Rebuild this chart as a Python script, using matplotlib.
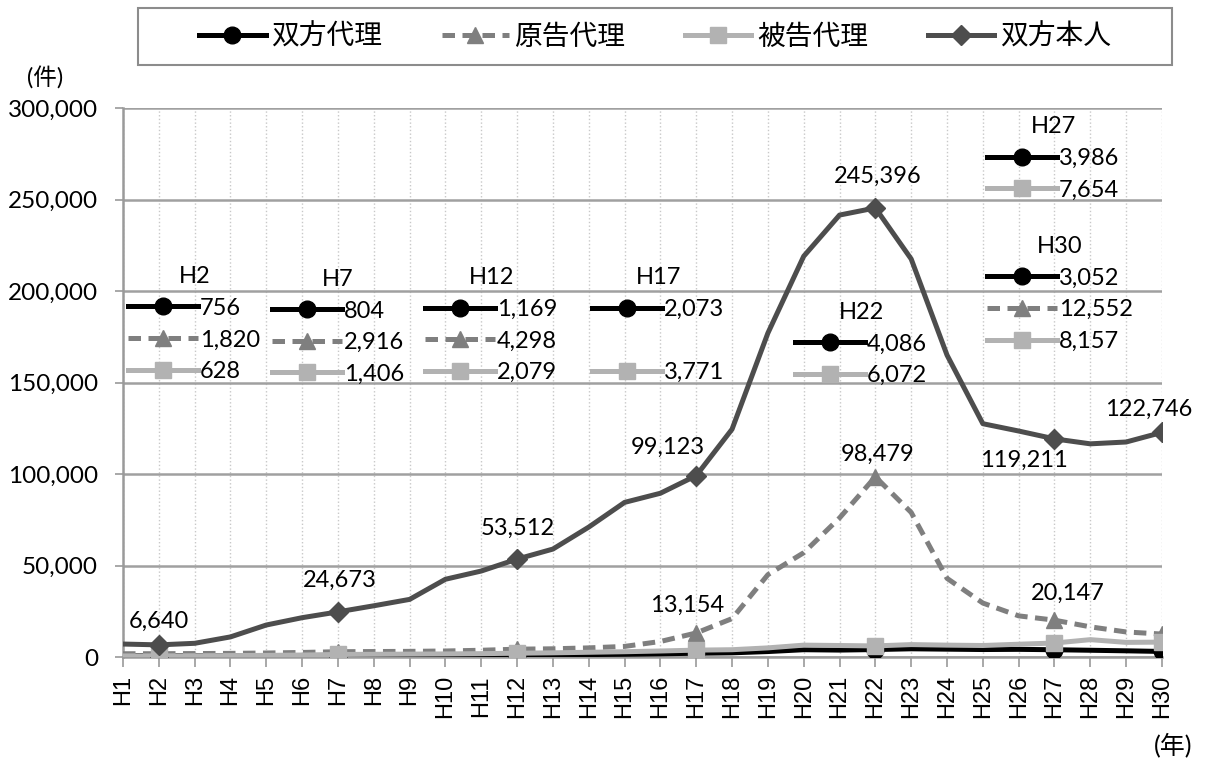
import matplotlib
matplotlib.use("Agg")
import matplotlib.pyplot as plt
from matplotlib.lines import Line2D
from matplotlib.patches import Rectangle
from matplotlib.ticker import FuncFormatter, MultipleLocator

plt.rcParams['font.family'] = ['Lato', 'Noto Sans CJK JP', 'DejaVu Sans']

# data
years = ['H%d' % i for i in range(1, 31)]
series_names = ['双方代理', '原告代理', '被告代理', '双方本人']

both_lawyer = [700, 756, 760, 770, 780, 790, 804, 830, 870, 920, 1000, 1169,
               1250, 1350, 1500, 1750, 2073, 2300, 3000, 4000, 3800, 4086,
               4500, 4300, 4100, 4200, 3986, 3700, 3400, 3052]
plaintiff_lawyer = [1800, 1820, 1900, 2000, 2200, 2500, 2916, 3000, 3100, 3300,
                    3700, 4298, 4500, 5000, 5800, 8500, 13154, 21000, 45000,
                    57000, 76000, 98479, 79000, 43000, 29500, 22500, 20147,
                    16500, 13700, 12552]
defendant_lawyer = [600, 628, 700, 800, 900, 1100, 1406, 1500, 1600, 1700, 1850,
                    2079, 2300, 2600, 2900, 3300, 3771, 4000, 5000, 6500, 6300,
                    6072, 6800, 6500, 6300, 7000, 7654, 9500, 8000, 8157]
both_self = [7100, 6640, 7500, 11000, 17500, 21500, 24673, 28000, 31500, 42500,
             47000, 53512, 59000, 71000, 84500, 89500, 99123, 124500, 177000,
             219000, 241500, 245396, 217500, 165000, 127500, 123500, 119211,
             116500, 117500, 122746]

marker_years = ['H2', 'H7', 'H12', 'H17', 'H22', 'H27', 'H30']

# which series go into each small value box, None = blank row
box_years = ['H2', 'H7', 'H12', 'H17', 'H22', 'H27', 'H30']
box_rows = [[0, 1, 2], [0, 1, 2], [0, 1, 2], [0, None, 2], [0, 2], [0, 2], [0, 1, 2]]
# upper-left of each box in axes fraction
box_pos = [(0.005, 0.712), (0.1434, 0.707), (0.2907, 0.710), (0.4514, 0.710),
           (0.6468, 0.647), (0.8316, 0.985), (0.8316, 0.767)]

# labelled points directly on the lines: (series, year, dx px, dy px)
point_labels = [(3, 'H2', 0, 24), (3, 'H7', 2, 32), (3, 'H12', 1, 31),
                (3, 'H17', -28, 28), (3, 'H22', 2, 32), (3, 'H27', -31, -21),
                (3, 'H30', -13, 23), (1, 'H17', -9, 28), (1, 'H22', 2, 22),
                (1, 'H27', 13, 27)]

styles = [
    dict(color='black', linestyle='-', marker='o', lw=3.6, ms=12),
    dict(color='#7f7f7f', linestyle=(0, (2.5, 1.5)), marker='^', lw=3.6, ms=12),
    dict(color='#b2b2b2', linestyle='-', marker='s', lw=3.6, ms=12),
    dict(color='#4d4d4d', linestyle='-', marker='D', lw=3.6, ms=10.5),
]

all_series = [both_lawyer, plaintiff_lawyer, defendant_lawyer, both_self]
x = list(range(len(years)))
mark_idx = [years.index(y) for y in marker_years]

fig = plt.figure(figsize=(12.07, 7.58), dpi=100)
ax = fig.add_axes([0.1019, 0.1332, 0.8608, 0.7243])

for vals, st in zip(all_series, styles):
    ax.plot(x, vals, color=st['color'], linestyle=st['linestyle'],
            lw=st['lw'], marker=st['marker'], ms=st['ms'],
            markevery=mark_idx, zorder=3)

ax.set_xlim(0, len(years) - 1)
ax.set_ylim(0, 300000)
ax.yaxis.set_major_locator(MultipleLocator(50000))
ax.yaxis.set_major_formatter(FuncFormatter(lambda v, p: '{:,.0f}'.format(v)))
ax.set_xticks(x)
ax.set_xticklabels(years, rotation=90, family='Liberation Sans', fontsize=17)
ax.tick_params(axis='y', labelsize=17.5, length=6, width=1.2, color='#9a9a9a', pad=12)
ax.tick_params(axis='x', length=7, width=1.2, color='#9a9a9a', pad=6)

ax.grid(axis='y', color='#a0a0a0', lw=1.8, zorder=0)
ax.grid(axis='x', color='#c8c8c8', lw=1.0, linestyle=':', zorder=0)
for s in ['top', 'right']:
    ax.spines[s].set_visible(False)
for s in ['left', 'bottom']:
    ax.spines[s].set_color('#9a9a9a')
    ax.spines[s].set_linewidth(1.8)

# values next to points
for si, yr, dx, dy in point_labels:
    i = years.index(yr)
    v = all_series[si][i]
    ax.annotate('{:,}'.format(v), (i, v), xytext=(dx, dy), textcoords='offset pixels',
                ha='center', va='center', fontsize=17, zorder=5)


def make_handle(si):
    st = styles[si]
    return Line2D([], [], color=st['color'], linestyle=st['linestyle'], lw=st['lw'],
                  marker=st['marker'], ms=st['ms'])


# small value boxes
for yr, rows, pos in zip(box_years, box_rows, box_pos):
    i = years.index(yr)
    hs, ls = [], []
    for si in rows:
        if si is None:
            hs.append(Line2D([], [], color='none'))
            ls.append(' ')
        else:
            hs.append(make_handle(si))
            ls.append('{:,}'.format(all_series[si][i]))
    lg = ax.legend(hs, ls, title=yr, loc='upper left', bbox_to_anchor=pos,
                   frameon=False, fontsize=17, title_fontsize=17, borderpad=0,
                   borderaxespad=0, handlelength=2.95, handletextpad=0.1,
                   labelspacing=0.45, numpoints=1)
    ax.add_artist(lg)

# main legend, frame drawn separately so its size matches the reference
frame = Rectangle((0.0144, 1.0783), 0.9952, 0.1038, transform=ax.transAxes,
                  fill=False, edgecolor='#8c8c8c', lw=1.5, clip_on=False)
ax.add_patch(frame)
main_lg = ax.legend([make_handle(i) for i in range(4)], series_names,
                    loc='center', bbox_to_anchor=(0.512, 1.130),
                    ncol=4, fontsize=20, frameon=False,
                    handlelength=2.4, handletextpad=0.2,
                    columnspacing=2.15, borderaxespad=0, borderpad=0)

fig.text(45 / 1207, 1 - 78 / 758, '(件)', ha='center', va='center', fontsize=17)
fig.text(1173 / 1207, 1 - 745 / 758, '(年)', ha='center', va='center', fontsize=18)

fig.savefig('out.png', dpi=100)
